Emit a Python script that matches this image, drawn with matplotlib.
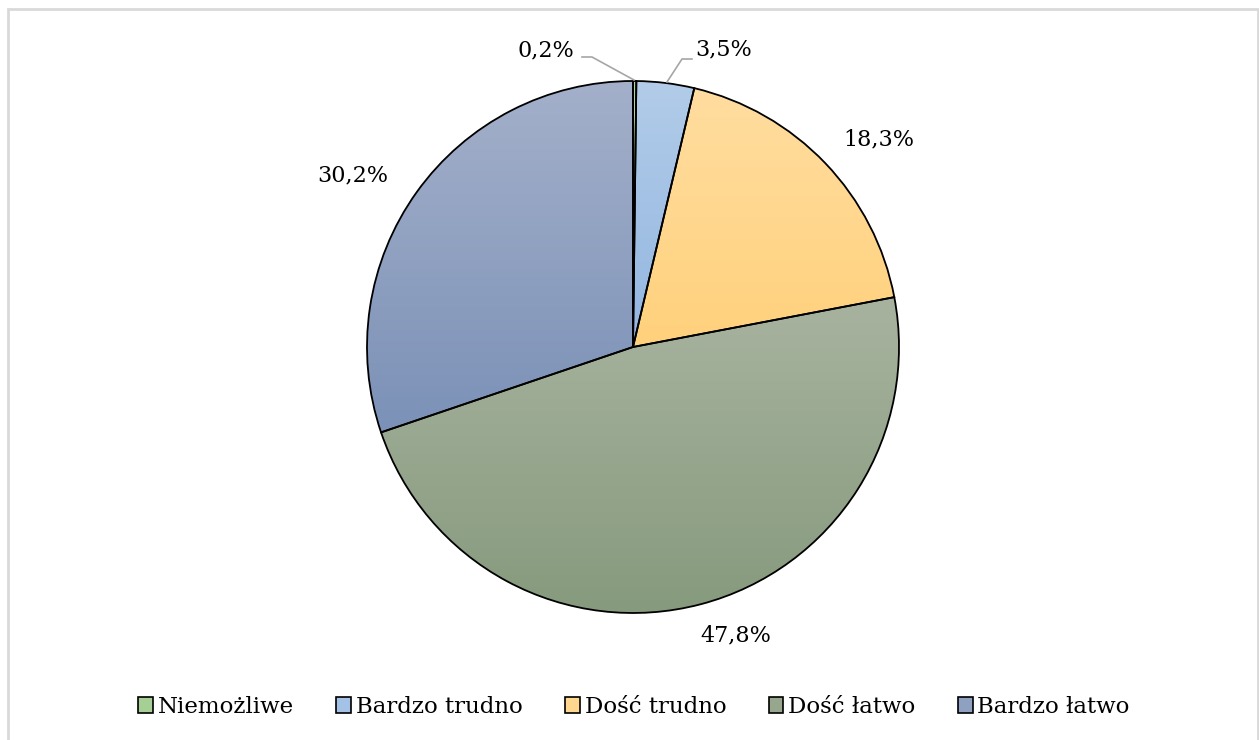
import numpy as np
import matplotlib.pyplot as plt
from matplotlib.colors import LinearSegmentedColormap
from matplotlib.patches import Patch, Rectangle

# odpowiedzi i udziały procentowe
categories = ['Niemożliwe', 'Bardzo trudno', 'Dość trudno', 'Dość łatwo', 'Bardzo łatwo']
shares = [0.2, 3.5, 18.3, 47.8, 30.2]
labels = ['0,2%', '3,5%', '18,3%', '47,8%', '30,2%']

# kolory: góra / dół gradientu
top_colors = ['#B3D6A4', '#B2CCE9', '#FFDDA0', '#A8B39F', '#A4B0CA']
bottom_colors = ['#98C687', '#93B6E0', '#FFD17C', '#869A7D', '#7B91B7']
legend_colors = ['#A6CF95', '#A3C2E5', '#FFD78E', '#97A78E', '#8FA1C1']

W, H = 1259, 740
cx, cy, R = 633, H - 347, 266

fig = plt.figure(figsize=(W / 100, H / 100), dpi=100)
ax = fig.add_axes([0, 0, 1, 1])

wedges, _ = ax.pie(shares, center=(cx, cy), radius=R, startangle=90,
                   counterclock=False,
                   wedgeprops=dict(facecolor='none', edgecolor='black', linewidth=1.3, zorder=3))

# wypełnienie gradientem w pionie, osobno dla każdego wycinka
grad = np.linspace(1, 0, 256).reshape(-1, 1)
for w, c_top, c_bot in zip(wedges, top_colors, bottom_colors):
    bb = w.get_path().get_extents()
    cmap = LinearSegmentedColormap.from_list('g', [c_bot, c_top])
    im = ax.imshow(grad, cmap=cmap, extent=[bb.x0, bb.x1, bb.y0, bb.y1],
                   origin='upper', aspect='auto', zorder=1, interpolation='bilinear')
    im.set_clip_path(w)

ax.set_xlim(0, W)
ax.set_ylim(0, H)
ax.set_aspect('equal')
ax.axis('off')

# etykiety danych (kąt w stopniach, odległość od środka w px)
label_pos = [(106.3, 309), (73.0, 311), (40.2, 322), (-70.3, 306), (148.5, 329)]
for txt, (ang, dist) in zip(labels, label_pos):
    a = np.deg2rad(ang)
    ax.text(cx + dist * np.cos(a), cy + dist * np.sin(a), txt,
            ha='center', va='center', fontsize=16, family='DejaVu Serif', zorder=5)

# linie odniesienia dla małych wycinków
ax.plot([582, 592, 634], [H - 57, H - 57, H - 80], color='#A6A6A6', lw=1.2, zorder=4)
ax.plot([667, 682, 692], [H - 82, H - 59, H - 59], color='#A6A6A6', lw=1.2, zorder=4)

# ramka obszaru wykresu
fig.patches.append(Rectangle((8 / W, -0.01), (W - 9) / W, 1 - 9 / H + 0.01,
                             transform=fig.transFigure, fill=False,
                             edgecolor='#D9D9D9', linewidth=2))

handles = [Patch(facecolor=c, edgecolor='black', linewidth=1.2) for c in legend_colors]
fig.legend(handles, categories, loc='center', bbox_to_anchor=(634 / W, 1 - 707 / H),
           ncol=5, frameon=False, handlelength=0.65, handleheight=0.65,
           handletextpad=0.2, columnspacing=1.85,
           prop=dict(family='DejaVu Serif', size=16.5))

fig.savefig('out.png', dpi=100)
